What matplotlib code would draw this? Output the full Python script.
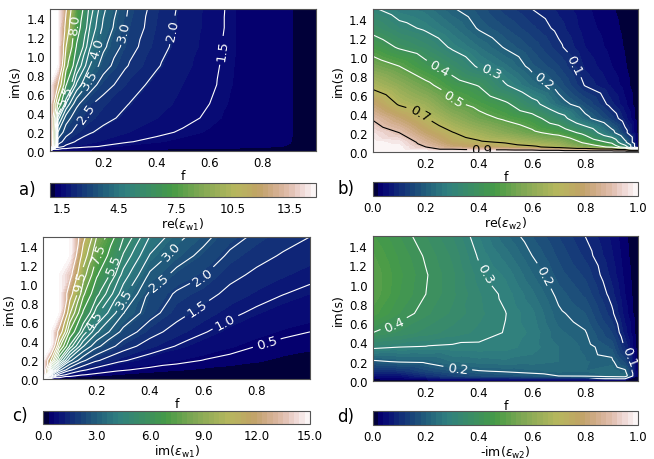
import numpy as np
import matplotlib
matplotlib.use("Agg")
import matplotlib.pyplot as plt
import matplotlib.tri as mtri
from matplotlib.patches import Polygon

# im(s) rows shared by all four maps
im_s = [0.0, 0.05, 0.1, 0.2, 0.35, 0.5, 0.7, 0.9, 1.1, 1.3, 1.5]

# f columns of the eps_w1 maps (panels a and c)
f_w1 = [0.0, 0.03, 0.06, 0.1, 0.15, 0.2, 0.3, 0.4, 0.5, 0.6, 0.7, 0.8, 0.9, 1.0]

# re(eps_w1), one row per im(s); 16 means off the top of the scale
re_w1 = [
    [1, 1, 1, 1, 1, 1, 1, 1, 1, 1, 1, 1, 1, 1],
    [16, 2.26, 1.89, 1.68, 1.55, 1.47, 1.37, 1.32, 1.27, 1.23, 1.20, 1.16, 1.12, 1],
    [16, 2.78, 2.24, 1.95, 1.76, 1.65, 1.51, 1.43, 1.36, 1.31, 1.25, 1.19, 1.14, 1],
    [16, 3.48, 2.72, 2.31, 2.04, 1.88, 1.69, 1.56, 1.47, 1.39, 1.31, 1.22, 1.15, 1],
    [16, 4.72, 3.24, 2.69, 2.34, 2.13, 1.86, 1.70, 1.57, 1.46, 1.35, 1.23, 1.15, 1],
    [16, 7.79, 4.46, 3.12, 2.56, 2.30, 1.99, 1.79, 1.63, 1.50, 1.37, 1.24, 1.15, 1],
    [16, 12.06, 6.59, 4.39, 3.29, 2.73, 2.17, 1.88, 1.69, 1.54, 1.39, 1.24, 1.15, 1],
    [16, 16, 8.49, 5.50, 4.00, 3.23, 2.45, 2.04, 1.76, 1.56, 1.40, 1.25, 1.15, 1],
    [16, 16, 10.06, 6.39, 4.55, 3.62, 2.66, 2.16, 1.83, 1.59, 1.41, 1.25, 1.15, 1],
    [16, 16, 11.29, 7.08, 4.97, 3.90, 2.81, 2.24, 1.87, 1.61, 1.41, 1.25, 1.15, 1],
    [16, 16, 12.25, 7.62, 5.29, 4.11, 2.92, 2.29, 1.90, 1.62, 1.41, 1.25, 1.15, 1],
]

# im(eps_w1)
im_w1 = [
    [0, 0, 0, 0, 0, 0, 0, 0, 0, 0, 0, 0, 0, 0],
    [16, 2.66, 1.33, 0.80, 0.53, 0.40, 0.27, 0.20, 0.16, 0.13, 0.11, 0.10, 0.08, 0.05],
    [16, 5.31, 2.66, 1.59, 1.06, 0.80, 0.53, 0.40, 0.32, 0.26, 0.22, 0.19, 0.14, 0.10],
    [16, 10.5, 5.25, 3.14, 2.09, 1.56, 1.04, 0.77, 0.61, 0.49, 0.40, 0.33, 0.25, 0.20],
    [16, 16, 8.91, 5.32, 3.53, 2.63, 1.73, 1.27, 0.98, 0.78, 0.63, 0.50, 0.41, 0.35],
    [16, 16, 12.23, 7.29, 4.82, 3.58, 2.33, 1.69, 1.30, 1.03, 0.83, 0.68, 0.57, 0.50],
    [16, 16, 16, 9.62, 6.33, 4.69, 3.03, 2.20, 1.68, 1.34, 1.09, 0.92, 0.79, 0.70],
    [16, 16, 16, 11.7, 7.70, 5.69, 3.68, 2.40, 1.93, 1.70, 1.36, 1.16, 1.01, 0.90],
    [16, 16, 16, 13.65, 8.98, 6.64, 4.30, 2.90, 2.33, 2.03, 1.64, 1.40, 1.23, 1.10],
    [16, 16, 16, 15.5, 10.23, 7.57, 4.92, 3.45, 2.76, 2.35, 1.91, 1.65, 1.45, 1.30],
    [16, 16, 16, 16, 11.46, 8.50, 5.54, 3.97, 3.18, 2.66, 2.19, 1.90, 1.67, 1.50],
]

# f columns of the eps_w2 maps (panels b and d)
f_w2 = [0.0, 0.1, 0.2, 0.3, 0.4, 0.5, 0.6, 0.7, 0.8, 0.9, 0.95, 1.0]

# re(eps_w2)
re_w2 = [
    [1, 1, 1, 1, 1, 1, 1, 1, 1, 1, 1, 1],
    [0.9975, 0.99, 0.90, 0.81, 0.78, 0.75, 0.72, 0.66, 0.57, 0.48, 0.35, 0],
    [0.990, 0.97, 0.86, 0.76, 0.715, 0.69, 0.64, 0.60, 0.48, 0.38, 0.22, 0],
    [0.962, 0.90, 0.79, 0.705, 0.64, 0.58, 0.52, 0.465, 0.37, 0.225, 0.12, 0],
    [0.891, 0.80, 0.705, 0.61, 0.535, 0.485, 0.435, 0.34, 0.22, 0.13, 0.07, 0],
    [0.800, 0.69, 0.63, 0.525, 0.47, 0.415, 0.33, 0.23, 0.162, 0.085, 0.045, 0],
    [0.671, 0.60, 0.525, 0.44, 0.395, 0.305, 0.233, 0.175, 0.097, 0.055, 0.03, 0],
    [0.552, 0.50, 0.425, 0.36, 0.29, 0.245, 0.185, 0.14, 0.075, 0.04, 0.022, 0],
    [0.452, 0.39, 0.35, 0.29, 0.24, 0.195, 0.155, 0.108, 0.06, 0.032, 0.018, 0],
    [0.372, 0.32, 0.29, 0.245, 0.195, 0.16, 0.125, 0.09, 0.05, 0.027, 0.015, 0],
    [0.308, 0.27, 0.25, 0.205, 0.17, 0.13, 0.10, 0.075, 0.045, 0.022, 0.012, 0],
]

# -im(eps_w2)
negim_w2 = [
    [0, 0, 0, 0, 0, 0, 0, 0, 0, 0, 0, 0],
    [0.0499, 0.055, 0.10, 0.14, 0.16, 0.17, 0.18, 0.20, 0.205, 0.23, 0.24, 0],
    [0.099, 0.11, 0.15, 0.18, 0.197, 0.205, 0.215, 0.225, 0.22, 0.235, 0.21, 0],
    [0.192, 0.205, 0.21, 0.24, 0.25, 0.255, 0.25, 0.24, 0.222, 0.21, 0.15, 0],
    [0.312, 0.30, 0.297, 0.293, 0.292, 0.288, 0.27, 0.24, 0.215, 0.175, 0.095, 0],
    [0.400, 0.375, 0.35, 0.33, 0.315, 0.298, 0.275, 0.225, 0.203, 0.14, 0.07, 0],
    [0.470, 0.42, 0.385, 0.355, 0.325, 0.301, 0.265, 0.207, 0.18, 0.108, 0.05, 0],
    [0.497, 0.44, 0.40, 0.365, 0.322, 0.292, 0.245, 0.19, 0.155, 0.088, 0.04, 0],
    [0.498, 0.445, 0.403, 0.365, 0.31, 0.275, 0.222, 0.17, 0.135, 0.073, 0.033, 0],
    [0.483, 0.435, 0.395, 0.355, 0.295, 0.25, 0.20, 0.155, 0.115, 0.063, 0.028, 0],
    [0.462, 0.42, 0.38, 0.34, 0.28, 0.225, 0.18, 0.14, 0.10, 0.055, 0.024, 0],
]

# labelled and unlabelled contour lines
labels_a = [1.5, 2.0, 2.5, 3.0, 3.5, 4.0, 5.5, 8.0]
plain_a = [4.5, 5.0, 6.5, 10.0, 12.0]
labels_b = [0.1, 0.2, 0.3, 0.4, 0.5, 0.7, 0.9]
colors_b = ['white', 'white', 'white', 'white', 'white', 'black', 'black']
labels_c = [0.5, 1.0, 1.5, 2.0, 2.5, 3.0, 3.5, 4.5, 5.5, 7.5, 9.5]
plain_c = [4.0, 5.0, 6.5, 8.5, 11.0, 13.0]
labels_d = [0.2, 0.3, 0.4]
edge_d = [0.1]

ticks_a = [1.5, 4.5, 7.5, 10.5, 13.5]
ticks_b = [0.0, 0.2, 0.4, 0.6, 0.8, 1.0]
ticks_c = [0.0, 3.0, 6.0, 9.0, 12.0, 15.0]

# where the contour labels sit (layout only)
spots_a = [(0.633, 1.07), (0.457, 1.28), (0.144, 0.39), (0.276, 1.27),
           (0.15, 0.76), (0.175, 1.09), (0.069, 0.585), (0.09, 1.34)]
spots_b = [(0.74, 0.9), (0.62, 0.69), (0.44, 0.78), (0.25, 0.88),
           (0.30, 0.55), (0.17, 0.38), (0.41, 0.06)]
spots_c = [(0.837, 0.39), (0.687, 0.58), (0.568, 0.78), (0.6, 1.07),
           (0.43, 1.04), (0.487, 1.34), (0.30, 0.86), (0.194, 0.62),
           (0.268, 1.21), (0.2, 1.34), (0.127, 1.04)]
spots_d = [(0.64, 1.08), (0.32, 0.125), (0.42, 1.11), (0.084, 0.56)]
spots_d_edge = [(0.96, 0.25)]


def grid_triangulation(xs, ys):
    nx, ny = len(xs), len(ys)
    X, Y = np.meshgrid(xs, ys)
    tris = []
    for j in range(ny - 1):
        for i in range(nx - 1):
            p = j * nx + i
            tris.append([p, p + 1, p + nx + 1])
            tris.append([p, p + nx + 1, p + nx])
    return mtri.Triangulation(X.ravel(), Y.ravel(), np.array(tris))


def draw_panel(ax, cax, xs, zz, lo, hi, label_levels, label_colors, plain_levels,
               spots, ticks, cbar_label, tag, tag_xy, fig):
    tri = grid_triangulation(xs, im_s)
    z = np.asarray(zz, dtype=float).ravel()
    levels = np.linspace(lo, hi, 51)
    cf = ax.tricontourf(tri, np.clip(z, lo, hi), levels=levels, cmap='gist_earth')
    if plain_levels:
        ax.tricontour(tri, z, levels=plain_levels, colors='white', linewidths=0.8)
    cs = ax.tricontour(tri, z, levels=label_levels, colors=label_colors,
                       linewidths=0.8)
    ax.clabel(cs, fmt='%.1f', fontsize=9.5, inline=True, inline_spacing=4,
              manual=spots)
    ax.set_xlim(0, 1)
    ax.set_ylim(0, 1.5)
    ax.set_xticks([0.2, 0.4, 0.6, 0.8])
    ax.set_yticks(np.arange(0, 1.41, 0.2))
    ax.tick_params(labelsize=8.5, length=0)
    ax.set_xlabel('f', fontsize=9, labelpad=0)
    ax.set_ylabel('im(s)', fontsize=9, labelpad=3)
    for sp in ax.spines.values():
        sp.set_color('#555555')
    cb = fig.colorbar(cf, cax=cax, orientation='horizontal', ticks=ticks,
                      format='%.1f')
    cb.ax.tick_params(labelsize=8.5, length=0)
    cb.set_label(cbar_label, fontsize=9, labelpad=1)
    cb.outline.set_edgecolor('#555555')
    fig.text(tag_xy[0], tag_xy[1], tag, fontsize=12, va='center', ha='center')
    return tri, z


fig = plt.figure(figsize=(6.54, 4.6), dpi=100)

ax_a = fig.add_axes([0.0765, 0.669, 0.4067, 0.310])
cax_a = fig.add_axes([0.0765, 0.570, 0.4067, 0.030])
ax_b = fig.add_axes([0.5699, 0.668, 0.4061, 0.310])
cax_b = fig.add_axes([0.5699, 0.572, 0.4061, 0.030])
ax_c = fig.add_axes([0.0662, 0.173, 0.4078, 0.310])
cax_c = fig.add_axes([0.0662, 0.076, 0.4078, 0.029])
ax_d = fig.add_axes([0.5699, 0.170, 0.4061, 0.314])
cax_d = fig.add_axes([0.5699, 0.074, 0.4061, 0.030])

draw_panel(ax_a, cax_a, f_w1, re_w1, 0.85, 14.9, labels_a, 'white', plain_a,
           spots_a, ticks_a, r're($\epsilon_{\rm w1}$)', 'a)', (0.041, 0.587), fig)

draw_panel(ax_b, cax_b, f_w2, re_w2, 0.0, 1.0, labels_b, colors_b, [],
           spots_b, ticks_b, r're($\epsilon_{\rm w2}$)', 'b)', (0.529, 0.589), fig)

draw_panel(ax_c, cax_c, f_w1, im_w1, 0.0, 15.0, labels_c, 'white', plain_c,
           spots_c, ticks_c, r'im($\epsilon_{\rm w1}$)', 'c)', (0.031, 0.096), fig)

tri_d, z_d = draw_panel(ax_d, cax_d, f_w2, negim_w2, 0.0, 1.0, labels_d, 'white',
                        [], spots_d, ticks_b, r'-im($\epsilon_{\rm w2}$)', 'd)',
                        (0.529, 0.093), fig)

# the 0.1 line of panel d only shows up on the right-hand side
cs_edge = ax_d.tricontour(tri_d, z_d, levels=edge_d, colors='white', linewidths=0.8)
keep = Polygon([(0.6, 1.6), (1.05, 1.6), (1.05, -0.05), (0.6, 0.1)],
               closed=True, transform=ax_d.transData)
cs_edge.set_clip_path(keep)
ax_d.clabel(cs_edge, fmt='%.1f', fontsize=9.5, inline=True, inline_spacing=4,
            manual=spots_d_edge)

fig.savefig('out.png', dpi=100)
